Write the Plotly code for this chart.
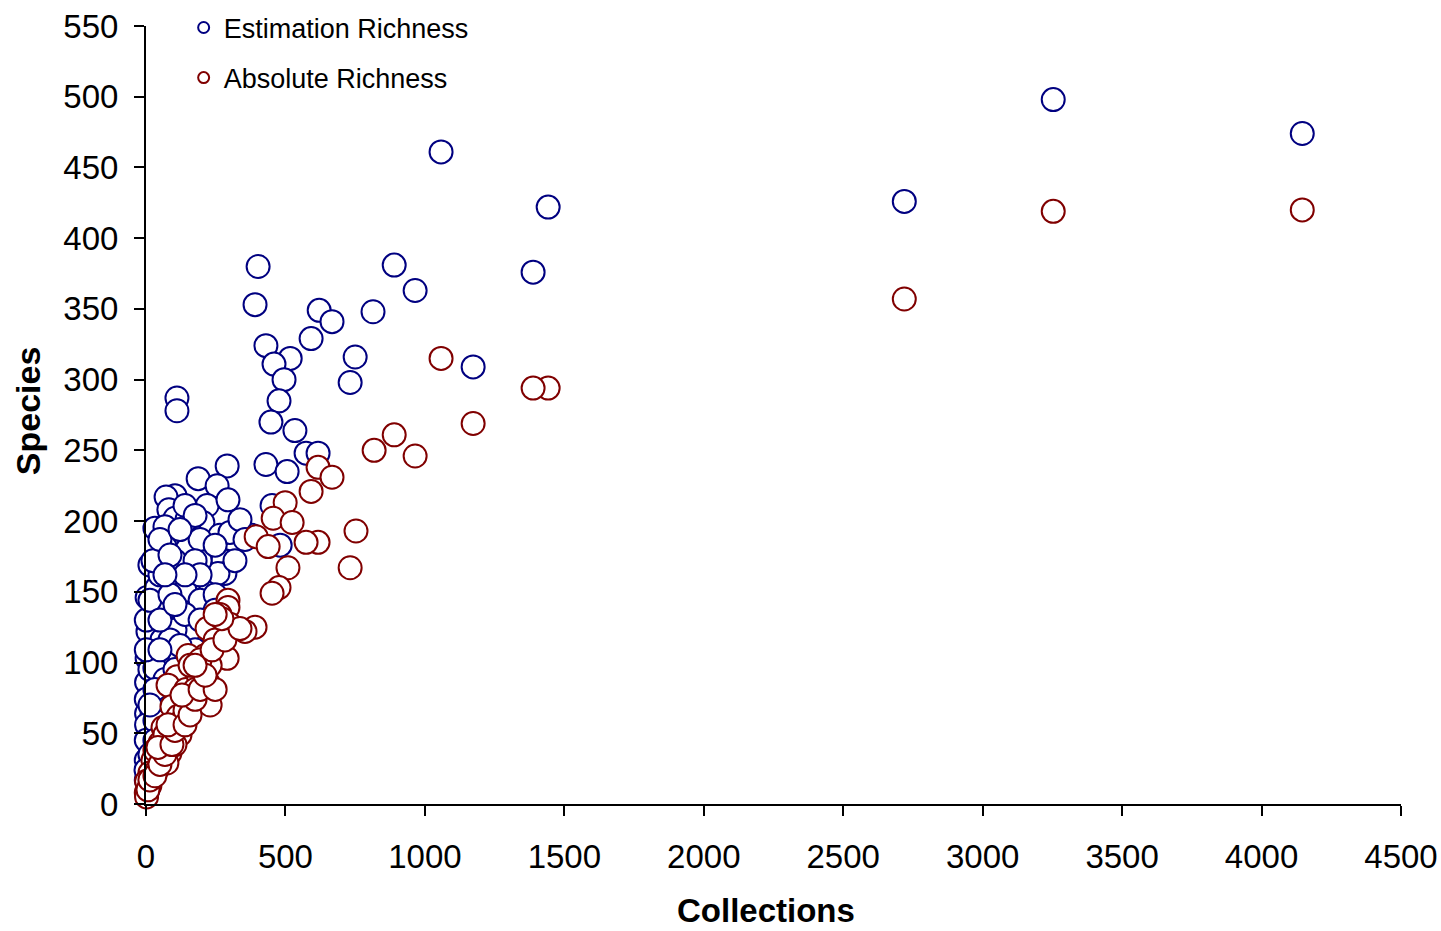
import plotly.graph_objects as go

# Estimation Richness (blue)
est_collections = [
    1058, 1442, 2719, 3253, 4146, 402, 391, 890, 965, 1388, 814, 621, 667, 592, 430,
    517, 750, 732, 459, 495, 1173, 111, 111, 477, 448, 534, 574, 617, 430, 506,
    291, 187, 255, 104, 72, 219, 294, 82, 104, 204, 32, 265, 158, 68, 230,
    14, 147, 283, 122, 219, 452, 380, 481, 301, 276, 222, 212, 283, 4, 39,
    104, 169, 230, 258, 61, 158, 7, 57, 158, 4, 61, 2, 43,
    1, 2, 22, 2, 1, 1, 1, 14, 32, 1, 1, 14, 50, 25, 68,
    140, 194, 104, 176, 122, 86, 194, 248, 147, 50, 104, 194, 50, 140, 86, 50, 32,
    140, 176, 122, 86, 176, 248, 194, 140, 86, 68, 248, 104, 194, 122, 68, 104,
    32, 50, 14, 32, 14, 0, 7, 337, 355, 319,
]
est_species = [
    461, 422, 426, 498, 474, 380, 353, 381, 363, 376, 348, 349, 341, 329, 324,
    315, 316, 298, 311, 300, 309, 287, 278, 285, 270, 264, 248, 248, 240, 235,
    239, 230, 225, 218, 217, 211, 215, 208, 202, 199, 195, 190, 192, 182, 180,
    169, 180, 172, 165, 163, 211, 190, 183, 192, 172, 158, 139, 163, 146, 153,
    156, 156, 156, 163, 136, 137, 122, 116, 123, 103, 102, 86, 88,
    74, 64, 64, 56, 45, 31, 17, 95, 96, 109, 130, 144, 162, 172, 196,
    151, 144, 123, 109, 102, 116, 172, 148, 201, 187, 172, 187, 130, 134, 81, 74, 59,
    211, 204, 194, 176, 172, 183, 162, 162, 148, 162, 137, 141, 130, 112, 88, 95,
    81, 109, 70, 45, 35, 24, 10, 201, 187, 172,
]

# Absolute Richness (red)
abs_collections = [
    1058, 1442, 1388, 1173, 2719, 3253, 4146, 890, 818, 965, 617, 667, 592, 499,
    456, 524, 395, 617, 574, 438, 753, 732, 509, 477, 452, 391, 355, 294, 294,
    258, 219, 212, 151, 291, 230, 204, 222, 111, 79, 158, 230, 93, 115, 61, 122,
    50, 86, 25, 75, 14, 2, 1, 2,
    143, 187, 50, 39, 14, 7, 129, 176, 194, 158, 248, 301, 265, 32, 104, 68, 140,
    14, 32, 50, 68, 43, 93, 104, 79, 140, 158, 176, 129, 194, 248, 212, 176, 237,
    283, 337, 272, 248,
]
abs_species = [
    315, 294, 294, 269, 357, 419, 420, 261, 250, 246, 238, 231, 221, 213,
    202, 199, 189, 185, 185, 182, 193, 167, 167, 153, 149, 125, 122, 144, 139,
    123, 124, 105, 105, 103, 98, 88, 86, 90, 84, 72, 70, 69, 62, 54, 49,
    43, 36, 31, 29, 22, 16, 8, 5,
    81, 91, 33, 24, 13, 10, 59, 81, 102, 98, 116, 127, 134, 38, 42, 49, 66,
    17, 20, 28, 35, 40, 42, 52, 56, 56, 63, 74, 77, 81, 81, 91, 98, 109,
    116, 124, 131, 134,
]

x_ticks = [0, 500, 1000, 1500, 2000, 2500, 3000, 3500, 4000, 4500]
y_ticks = [0, 50, 100, 150, 200, 250, 300, 350, 400, 450, 500, 550]

BLUE = "#000080"
RED = "#800000"
FONT = "Liberation Sans, Arial, sans-serif"

fig = go.Figure()
fig.add_trace(go.Scatter(
    x=est_collections, y=est_species, mode="markers", name="Estimation Richness",
    marker=dict(symbol="circle", size=23, color="white", line=dict(color=BLUE, width=2)),
    cliponaxis=False, showlegend=False,
))
fig.add_trace(go.Scatter(
    x=abs_collections, y=abs_species, mode="markers", name="Absolute Richness",
    marker=dict(symbol="circle", size=23, color="white", line=dict(color=RED, width=2)),
    cliponaxis=False, showlegend=False,
))
# legend entries with small markers
fig.add_trace(go.Scatter(
    x=[None], y=[None], mode="markers", name="Estimation Richness", legendgroup="a",
    marker=dict(symbol="circle", size=11, color="white", line=dict(color=BLUE, width=2)),
))
fig.add_trace(go.Scatter(
    x=[None], y=[None], mode="markers", name="Absolute Richness", legendgroup="b",
    marker=dict(symbol="circle", size=11, color="white", line=dict(color=RED, width=2)),
))

fig.update_layout(
    width=1441, height=931,
    margin=dict(l=146, r=40, t=26, b=127, autoexpand=False),
    paper_bgcolor="white", plot_bgcolor="white",
    font=dict(family=FONT, color="black"),
    legend=dict(
        x=0.030, y=1.029, xanchor="left", yanchor="top",
        font=dict(size=27, family=FONT, color="black"),
        bgcolor="rgba(0,0,0,0)", traceorder="grouped", tracegroupgap=12,
        itemwidth=30,
    ),
    xaxis=dict(
        range=[0, 4500], tickvals=x_ticks, ticktext=[str(v) for v in x_ticks],
        showgrid=False, zeroline=False, showline=True, linecolor="black", linewidth=2,
        ticks="outside", ticklen=10, tickwidth=2, tickcolor="black",
        tickfont=dict(size=33, family=FONT), ticklabelstandoff=12,
        automargin=False,
    ),
    yaxis=dict(
        range=[0, 550], tickvals=y_ticks, ticktext=[str(v) for v in y_ticks],
        showgrid=False, zeroline=False, showline=True, linecolor="black", linewidth=2,
        ticks="outside", ticklen=10, tickwidth=2, tickcolor="black",
        tickfont=dict(size=33, family=FONT), ticklabelstandoff=9,
        automargin=False,
    ),
    annotations=[
        dict(text="<b>Collections</b>", xref="paper", yref="paper", x=0.494, y=-0.1375,
             xanchor="center", yanchor="middle", showarrow=False,
             font=dict(size=33, family=FONT, color="black")),
        dict(text="<b>Species</b>", xref="paper", yref="paper", x=-0.0940, y=0.505,
             xanchor="center", yanchor="middle", showarrow=False, textangle=-90,
             font=dict(size=34, family=FONT, color="black")),
    ],
)

fig.write_html("out.html")
